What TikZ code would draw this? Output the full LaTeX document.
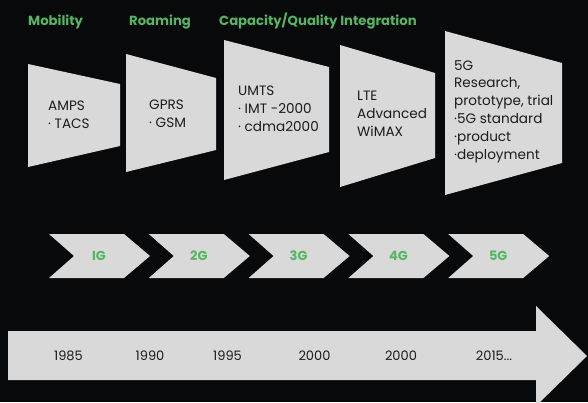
\documentclass[tikz,border=0pt]{standalone}
\usepackage{fontspec}
\setmainfont{Poppins}
\usetikzlibrary{positioning}

\definecolor{bgdark}{RGB}{8,9,11}
\definecolor{panelgray}{RGB}{217,217,217}
\definecolor{labelgreen}{RGB}{86,180,98}
\definecolor{textdark}{RGB}{28,28,28}

\begin{document}
\begin{tikzpicture}[x=1pt,y=-1pt,
    panel/.style={fill=panelgray},
    era/.style={font=\bfseries\fontsize{13.2}{15}\selectfont, text=labelgreen, anchor=base west, inner sep=0},
    tech/.style={font=\fontsize{13.6}{17.8}\selectfont, text=textdark, align=left, anchor=base west, inner sep=0},
    gen/.style={font=\bfseries\fontsize{13}{15}\selectfont, text=labelgreen, inner sep=0},
    year/.style={font=\fontsize{13}{15}\selectfont, text=textdark, inner sep=0}]

    % dark background, clipped to the picture
    \clip (0,0) rectangle (588,402);
    \fill [bgdark] (0,0) rectangle (588,402);

    % headlines
    \node [era] (mobility) at (28,25) {Mobility};
    \node [era] (roaming) at (129,25) {Roaming};
    \node [era] (capacity) at (219,25) {Capacity/Quality Integration};

    % draw the trapezoid panels: left x / top / bottom, right x / top / bottom
    \foreach \xa/\ya/\yb/\xb/\yc/\yd in {28/64/167/120/84/146, 126/54/172/216/78/150,
        224/40/180/329/67/152, 340/45/187/435/73/158, 445/31/195/562/63/163} {
      \fill [panel] (\xa,\ya) -- (\xb,\yc) -- (\xb,\yd) -- (\xa,\yb) -- cycle;
    }

    % panel texts (placed at the baseline of the last line)
    \node [tech] (amps) at (48,128) {AMPS\\ · TACS};
    \node [tech] (gprs) at (149,127) {GPRS\\ · GSM};
    \node [tech] (umts) at (238,131) {UMTS\\ · IMT -2000\\ · cdma2000};
    \node [tech] (lte) at (357,136) {LTE\\ Advanced\\ WiMAX};
    \node [tech] (fiveg) at (454,159) {5G\\ Research,\\ prototype, trial\\ ·5G standard\\ ·product\\ ·deployment};

    % chevrons for the generations
    \foreach \g [count=\i] in {IG,2G,3G,4G,5G} {
      \pgfmathsetmacro{\l}{49+99.8*(\i-1)}
      \fill [panel] (\l,234) -- ++(75,0) -- ++(26,22) -- ++(-26,22) -- ++(-75,0) -- ++(25,-22) -- cycle;
      \node [gen] (gen\i) at (\l+50,256) {\g};
    }

    % big time arrow
    \fill [panel] (8,331) -- (536,331) -- (536,306) -- (587,356) -- (536,406) -- (536,380) -- (8,380) -- cycle;

    % years
    \foreach \x/\yr [count=\i] in {68.5/1985, 150/1990, 227.5/1995, 314.5/2000, 401/2000, 494/2015.{}.{}.} {
      \node [year] (year\i) at (\x,356) {\yr};
    }

\end{tikzpicture}
\end{document}
